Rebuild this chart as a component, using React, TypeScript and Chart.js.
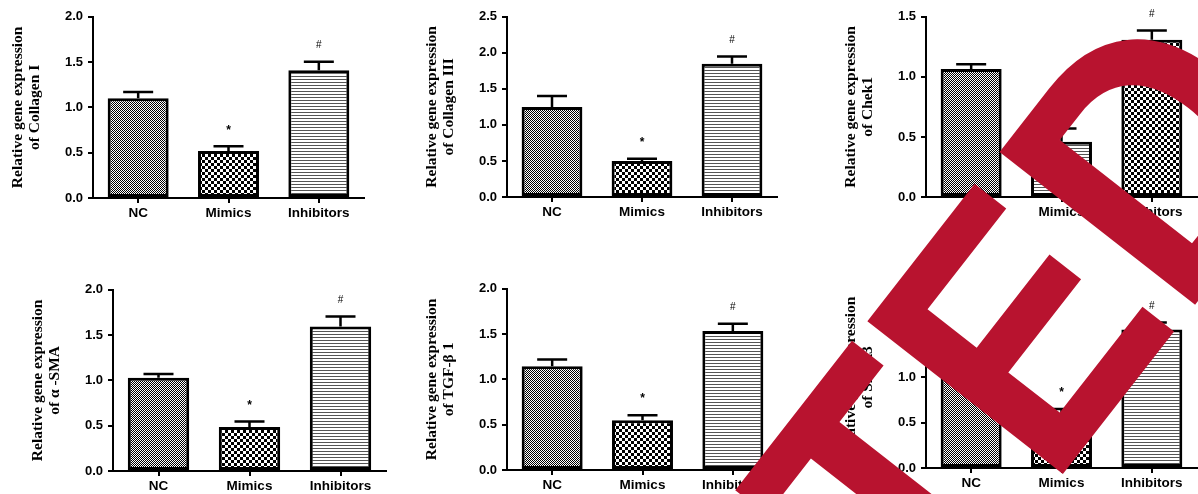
import React, { useEffect, useRef } from 'react';
import { Chart, registerables } from 'chart.js';
Chart.register(...registerables);

// ---------- data ----------
const categories = ['NC', 'Mimics', 'Inhibitors'];
const marks = ['', '*', '#'];

const collagenI = [1.1, 0.52, 1.41];
const collagenIErr = [0.07, 0.05, 0.095];

const collagenIII = [1.25, 0.5, 1.85];
const collagenIIIErr = [0.15, 0.03, 0.1];

const chek1 = [1.065, 0.46, 1.31];
const chek1Err = [0.04, 0.11, 0.075];

const aSMA = [1.03, 0.485, 1.595];
const aSMAErr = [0.04, 0.06, 0.11];

const tgfb1 = [1.145, 0.55, 1.535];
const tgfb1Err = [0.075, 0.055, 0.08];

const smad3 = [1.08, 0.58, 1.53];
const smad3Err = [0.06, 0.07, 0.075];

const titleLine1 = 'Relative gene expression';
const genes = ['of Collagen I', 'of Collagen III', 'of Chek1', 'of \u03b1 -SMA', 'of TGF-\u03b2 1', 'of Smad3'];
const yMaxes = [2.0, 2.5, 1.5, 2.0, 2.0, 2.0];
const watermarkText = 'RETRACTED';

// ---------- layout (pixel geometry of each panel) ----------
const layouts = [
  { ax: 93, ar: 364, yt: 16, yb: 198 },
  { ax: 507, ar: 777, yt: 16, yb: 197 },
  { ax: 926, ar: 1197, yt: 16, yb: 197 },
  { ax: 113, ar: 386, yt: 289, yb: 471 },
  { ax: 507, ar: 778, yt: 288, yb: 470 },
  { ax: 926, ar: 1197, yt: 286, yb: 468 },
];

const panelData = [
  { values: collagenI, errs: collagenIErr, pats: ['nc', 'mim', 'inh'] },
  { values: collagenIII, errs: collagenIIIErr, pats: ['nc', 'mim', 'inh'] },
  { values: chek1, errs: chek1Err, pats: ['nc', 'inh', 'mim'] },
  { values: aSMA, errs: aSMAErr, pats: ['nc', 'mim', 'inh'] },
  { values: tgfb1, errs: tgfb1Err, pats: ['nc', 'mim', 'inh'] },
  { values: smad3, errs: smad3Err, pats: ['nc', 'mim', 'inh'] },
];

const YW = 95; // y-axis box width
const XH = 30; // x-axis box height
const PT = 12; // top padding

function makePatterns(ctx: CanvasRenderingContext2D) {
  const mk = (w: number, h: number, draw: (c: CanvasRenderingContext2D) => void) => {
    const cv = document.createElement('canvas');
    cv.width = w;
    cv.height = h;
    const c = cv.getContext('2d')!;
    c.fillStyle = '#fff';
    c.fillRect(0, 0, w, h);
    draw(c);
    return ctx.createPattern(cv, 'repeat')!;
  };
  return {
    nc: mk(2, 2, (c) => {
      c.fillStyle = '#000';
      c.fillRect(0, 0, 1, 1);
      c.fillRect(1, 1, 1, 1);
    }),
    mim: mk(6, 6, (c) => {
      c.fillStyle = '#000';
      c.fillRect(0, 0, 3, 3);
      c.fillRect(3, 3, 3, 3);
    }),
    inh: mk(3, 3, (c) => {
      c.fillStyle = '#555';
      c.fillRect(0, 0, 3, 1);
    }),
  } as Record<string, CanvasPattern>;
}

function Panel({ idx }: { idx: number }) {
  const ref = useRef<HTMLCanvasElement>(null);
  const L = layouts[idx];
  const D = panelData[idx];
  const w = L.ar - L.ax + YW + 4;
  const h = L.yb - L.yt + PT + XH;

  useEffect(() => {
    const cv = ref.current!;
    const ctx = cv.getContext('2d')!;
    const pats = makePatterns(ctx);
    const errPlugin = {
      id: 'errbars' + idx,
      afterDatasetsDraw(chart: any) {
        const c = chart.ctx as CanvasRenderingContext2D;
        const meta = chart.getDatasetMeta(0);
        const y = chart.scales.y;
        c.save();
        c.strokeStyle = '#000';
        c.lineWidth = 2.5;
        c.fillStyle = '#000';
        c.textAlign = 'center';
        c.textBaseline = 'middle';
        meta.data.forEach((bar: any, i: number) => {
          const v = D.values[i];
          const e = D.errs[i];
          const top = y.getPixelForValue(v);
          const et = y.getPixelForValue(v + e);
          c.beginPath();
          c.moveTo(bar.x, top);
          c.lineTo(bar.x, et);
          c.moveTo(bar.x - 15, et);
          c.lineTo(bar.x + 15, et);
          c.stroke();
          if (marks[i]) {
            c.font = marks[i] === '*' ? 'bold 12px "Liberation Sans"' : '10px "Liberation Sans"';
            c.fillText(marks[i], bar.x, et - 16);
          }
        });
        c.restore();
      },
    };

    const chart = new Chart(cv, {
      type: 'bar',
      data: {
        labels: categories,
        datasets: [
          {
            data: D.values,
            backgroundColor: D.pats.map((p) => pats[p]) as any,
            borderColor: '#000',
            borderWidth: 3,
            borderSkipped: false,
            barPercentage: 0.675,
            categoryPercentage: 1,
          },
        ],
      },
      options: {
        animation: false,
        responsive: false,
        devicePixelRatio: 1,
        layout: { padding: { top: PT, left: 0, right: 4, bottom: 0 } },
        plugins: { legend: { display: false }, tooltip: { enabled: false }, title: { display: false } },
        scales: {
          x: {
            type: 'category',
            offset: true,
            afterFit: (s: any) => {
              s.height = XH;
            },
            grid: {
              display: true,
              drawOnChartArea: false,
              drawTicks: true,
              tickLength: 5,
              offset: false,
              color: '#000',
              lineWidth: 2,
            },
            border: { display: true, color: '#000', width: 2 },
            ticks: {
              color: '#000',
              padding: 2,
              font: { family: '"Liberation Sans", Arial', size: 13.5, weight: 'bold' },
            },
          },
          y: {
            min: 0,
            max: yMaxes[idx],
            afterFit: (s: any) => {
              s.width = YW;
            },
            grid: {
              display: true,
              drawOnChartArea: false,
              drawTicks: true,
              tickLength: 5,
              color: '#000',
              lineWidth: 2,
            },
            border: { display: true, color: '#000', width: 2 },
            ticks: {
              stepSize: 0.5,
              color: '#000',
              padding: 5,
              font: { family: '"Liberation Sans", Arial', size: 13, weight: 'bold' },
              callback: (v: any) => Number(v).toFixed(1),
            },
            title: {
              display: true,
              text: [titleLine1, genes[idx]],
              color: '#000',
              padding: { top: 11.5, bottom: 0 },
              font: { family: '"Liberation Serif", "Times New Roman", serif', size: 15.5, weight: 'bold', lineHeight: 1.1 },
            },
          },
        },
      },
      plugins: [errPlugin],
    } as any);
    return () => chart.destroy();
  }, []);

  return (
    <canvas
      ref={ref}
      width={w}
      height={h}
      style={{ position: 'absolute', left: L.ax - YW, top: L.yt - PT, width: w, height: h }}
    />
  );
}

function Watermark() {
  const ref = useRef<HTMLCanvasElement>(null);
  useEffect(() => {
    const cv = ref.current!;
    const ctx = cv.getContext('2d')!;
    ctx.save();
    ctx.clearRect(0, 0, cv.width, cv.height);
    const F = 322;
    const vScale = 1.12;
    ctx.font = `bold ${F}px "Liberation Sans"`;
    (ctx as any).fontKerning = 'none';
    const ang = (-52 * Math.PI) / 180;
    const ux = Math.cos(ang);
    const uy = Math.sin(ang);
    const lsbE = -ctx.measureText('E').actualBoundingBoxLeft;
    const adv = ctx.measureText(watermarkText.slice(0, 7)).width + lsbE;
    // baseline-left ink corner of the second "E"
    const ex = 1062;
    const ey = 475;
    const px = ex - adv * ux;
    const py = ey - adv * uy;
    ctx.translate(px, py);
    ctx.rotate(ang);
    ctx.scale(1, vScale);
    ctx.fillStyle = '#b8132f';
    ctx.textBaseline = 'alphabetic';
    ctx.textAlign = 'left';
    ctx.fillText(watermarkText, 0, 0);
    ctx.restore();
  }, []);
  return (
    <canvas
      ref={ref}
      width={1198}
      height={494}
      style={{ position: 'absolute', left: 0, top: 0, width: 1198, height: 494, pointerEvents: 'none', zIndex: 5 }}
    />
  );
}

export default function App() {
  return (
    <div
      style={{
        position: 'absolute',
        left: 0,
        top: 0,
        width: 1198,
        height: 494,
        overflow: 'hidden',
        background: '#fff',
      }}
    >
      {layouts.map((_, i) => (
        <Panel key={i} idx={i} />
      ))}
      <Watermark />
    </div>
  );
}
